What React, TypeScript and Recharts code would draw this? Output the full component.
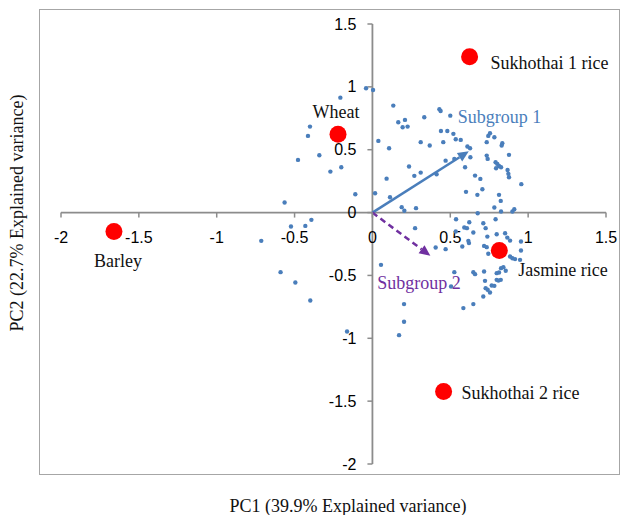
import React from 'react'
import { ScatterChart, Scatter, XAxis, YAxis, ReferenceLine } from 'recharts'

const xTicks = [-2, -1.5, -1, -0.5, 0, 0.5, 1, 1.5]
const yTicks = [-2, -1.5, -1, -0.5, 0, 0.5, 1, 1.5]

// PC1 / PC2 scores of individual samples
const samples: [number, number][] = [
  [-0.206, 0.914], [-0.041, 0.989], [0.004, 0.975], [-0.401, 0.684], [-0.414, 0.61],
  [-0.341, 0.456], [-0.478, 0.419], [-0.27, 0.326], [-0.2, 0.361], [-0.11, 0.146],
  [-0.564, 0.08], [-0.523, -0.111], [-0.431, -0.106], [-0.392, -0.058], [-0.714, -0.225],
  [-0.59, -0.474], [-0.495, -0.556], [-0.399, -0.7], [-0.163, -0.946], [0.017, 0.154],
  [0.134, 0.851], [0.43, 0.822], [0.438, 0.808], [0.5, 0.771], [0.333, 0.758],
  [0.166, 0.718], [0.209, 0.737], [0.194, 0.679], [0.226, 0.684], [0.44, 0.649],
  [0.481, 0.649], [0.52, 0.626], [0.535, 0.583], [0.567, 0.578], [0.455, 0.56],
  [0.31, 0.56], [0.368, 0.533], [0.038, 0.57], [0.107, 0.512], [0.61, 0.525],
  [0.627, 0.512], [0.755, 0.631], [0.744, 0.61], [0.783, 0.599], [0.734, 0.56],
  [0.834, 0.552], [0.83, 0.533], [0.877, 0.459], [0.734, 0.453], [0.74, 0.427],
  [0.791, 0.4], [0.802, 0.387], [0.813, 0.371], [0.826, 0.361], [0.794, 0.353],
  [0.868, 0.339], [0.873, 0.308], [0.877, 0.281], [0.47, 0.413], [0.526, 0.427],
  [0.629, 0.44], [0.595, 0.361], [0.235, 0.366], [0.31, 0.318], [0.269, 0.292],
  [0.412, 0.305], [0.091, 0.27], [0.659, 0.294], [0.693, 0.268], [0.706, 0.186],
  [0.601, 0.165], [0.674, 0.141], [0.956, 0.226], [0.813, 0.141], [0.824, 0.093],
  [0.113, 0.122], [0.188, 0.043], [0.205, 0.014], [0.28, 0.035], [0.783, 0.04],
  [0.826, 0.008], [0.911, 0.027], [0.899, 0.008], [0.676, -0.005],
  [0.537, -0.053], [0.622, -0.077], [0.712, -0.085], [0.791, -0.053], [0.274, -0.124],
  [0.59, -0.119], [0.607, -0.124], [0.535, -0.151], [0.648, -0.159], [0.727, -0.124],
  [0.798, -0.172], [0.852, -0.164], [0.866, -0.199], [0.884, -0.223], [0.954, -0.23],
  [0.738, -0.191], [0.616, -0.225], [0.62, -0.243], [0.577, -0.27], [0.47, -0.291],
  [0.406, -0.278], [0.717, -0.265], [0.734, -0.275], [0.744, -0.328], [0.884, -0.35],
  [0.899, -0.363], [0.916, -0.37], [0.954, -0.302], [0.948, -0.376], [0.826, -0.442],
  [0.841, -0.434], [0.856, -0.463], [0.798, -0.482], [0.813, -0.477], [0.055, -0.416],
  [0.526, -0.474], [0.648, -0.474], [0.659, -0.49], [0.717, -0.469], [0.798, -0.535],
  [0.809, -0.541], [0.824, -0.535], [0.723, -0.543], [0.766, -0.58], [0.783, -0.583],
  [0.727, -0.601], [0.74, -0.614], [0.755, -0.636], [0.712, -0.668], [0.648, -0.728],
  [0.584, -0.76], [0.203, -0.728], [0.203, -0.869], [0.171, -0.975], [0.505, -0.588],
]

const varietyNames = ['Sukhothai 1 rice', 'Sukhothai 2 rice', 'Jasmine rice', 'Wheat', 'Barley']
const varietyPC1 = [0.624, 0.457, 0.815, -0.221, -1.66]
const varietyPC2 = [1.24, -1.423, -0.302, 0.623, -0.151]

const subgroupNames = ['Subgroup 1', 'Subgroup 2']
const subgroupPC1 = [0.619, 0.372]
const subgroupPC2 = [0.487, -0.344]

// label placement relative to the marker, in px
const varietyLabelPos: Record<string, { dx: number; dy: number; anchor: 'start' | 'middle' }> = {
  'Sukhothai 1 rice': { dx: 21, dy: 6, anchor: 'start' },
  'Sukhothai 2 rice': { dx: 18, dy: 2, anchor: 'start' },
  'Jasmine rice': { dx: 19, dy: 19, anchor: 'start' },
  Wheat: { dx: -2, dy: -22, anchor: 'middle' },
  Barley: { dx: 4, dy: 29, anchor: 'middle' },
}
const subgroupStyle = [
  { color: '#4a7ebb', dash: undefined as string | undefined, dx: -11, dy: -34 },
  { color: '#7030a0', dash: '6 4', dx: -53, dy: 27 },
]

const AXIS = '#8c8c8c'
const SERIF = '"Liberation Serif", "Times New Roman", serif'
const SANS = '"Liberation Sans", Arial, sans-serif'

const sampleData = samples.map(([x, y]) => ({ x, y }))
const varietyData = varietyNames.map((name, i) => ({ name, x: varietyPC1[i], y: varietyPC2[i] }))
const xTickData = xTicks.map((x) => ({ x, y: 0 }))
const yTickData = yTicks.map((y) => ({ x: 0, y }))

function arrowShape(color: string, dash: string | undefined, label: string, ldx: number, ldy: number) {
  return (p: any) => {
    const { x1, y1, x2, y2 } = p
    const ang = Math.atan2(y2 - y1, x2 - x1)
    const len = 11, half = 5
    const bx = x2 - len * Math.cos(ang), by = y2 - len * Math.sin(ang)
    const nx = -Math.sin(ang), ny = Math.cos(ang)
    const pts = `${x2},${y2} ${bx + half * nx},${by + half * ny} ${bx - half * nx},${by - half * ny}`
    return (
      <g>
        <line x1={x1} y1={y1} x2={bx} y2={by} stroke={color} strokeWidth={2.5} strokeDasharray={dash} />
        <polygon points={pts} fill={color} />
        <text x={x2 + ldx} y={y2 + ldy} fill={color} fontFamily={SERIF} fontSize={18} dominantBaseline="central">{label}</text>
      </g>
    )
  }
}

export default function App() {
  return (
    <div style={{ position: 'absolute', left: 0, top: 0, width: 623, height: 515, background: '#fff' }}>
      <div style={{ position: 'absolute', left: 39, top: 9, width: 581, height: 466, border: '1px solid #a6a6a6', boxSizing: 'border-box' }} />
      <ScatterChart width={623} height={515} margin={{ top: 24, right: 17, bottom: 51, left: 61 }}>
        <XAxis type="number" dataKey="x" domain={[-2, 1.5]} ticks={xTicks} hide />
        <YAxis type="number" dataKey="y" domain={[-2, 1.5]} ticks={yTicks} hide />
        <ReferenceLine y={0} stroke={AXIS} strokeWidth={1.8} />
        <ReferenceLine x={0} stroke={AXIS} strokeWidth={1.8} />
        <Scatter data={xTickData} isAnimationActive={false} shape={(p: any) => (
          <g>
            <line x1={p.cx} y1={p.cy} x2={p.cx} y2={p.cy + 5} stroke={AXIS} strokeWidth={1.5} />
            <text x={p.cx} y={p.cy + 25} textAnchor="middle" dominantBaseline="central" fontFamily={SANS} fontSize={16} fill="#000">{String(p.payload.x)}</text>
          </g>
        )} />
        <Scatter data={yTickData} isAnimationActive={false} shape={(p: any) => (
          <g>
            <line x1={p.cx} y1={p.cy} x2={p.cx - 5} y2={p.cy} stroke={AXIS} strokeWidth={1.5} />
            <text x={p.cx - 16} y={p.cy} textAnchor="end" dominantBaseline="central" fontFamily={SANS} fontSize={16} fill="#000">{String(p.payload.y)}</text>
          </g>
        )} />
        <Scatter data={sampleData} isAnimationActive={false} shape={(p: any) => <circle cx={p.cx} cy={p.cy} r={2.2} fill="#4a7ebb" />} />
        {subgroupNames.map((name, i) => (
          <ReferenceLine key={name} segment={[{ x: 0, y: 0 }, { x: subgroupPC1[i], y: subgroupPC2[i] }]}
            shape={arrowShape(subgroupStyle[i].color, subgroupStyle[i].dash, name, subgroupStyle[i].dx, subgroupStyle[i].dy)} />
        ))}
        <Scatter data={varietyData} isAnimationActive={false} shape={(p: any) => {
          const lp = varietyLabelPos[p.payload.name]
          return (
            <g>
              <circle cx={p.cx} cy={p.cy} r={8.5} fill="#ff0000" />
              <text x={p.cx + lp.dx} y={p.cy + lp.dy} textAnchor={lp.anchor} dominantBaseline="central" fontFamily={SERIF} fontSize={18} fill="#111">{p.payload.name}</text>
            </g>
          )
        }} />
      </ScatterChart>
      <div style={{ position: 'absolute', left: 0, width: 696, top: 494, textAlign: 'center', fontFamily: SERIF, fontSize: 18, color: '#111', lineHeight: '24px' }}>
        PC1 (39.9% Explained variance)
      </div>
      <div style={{ position: 'absolute', left: 17, top: 213, transform: 'translate(-50%, -50%) rotate(-90deg)', whiteSpace: 'nowrap', fontFamily: SERIF, fontSize: 18, color: '#111', lineHeight: '24px' }}>
        PC2 (22.7% Explained variance)
      </div>
    </div>
  )
}
